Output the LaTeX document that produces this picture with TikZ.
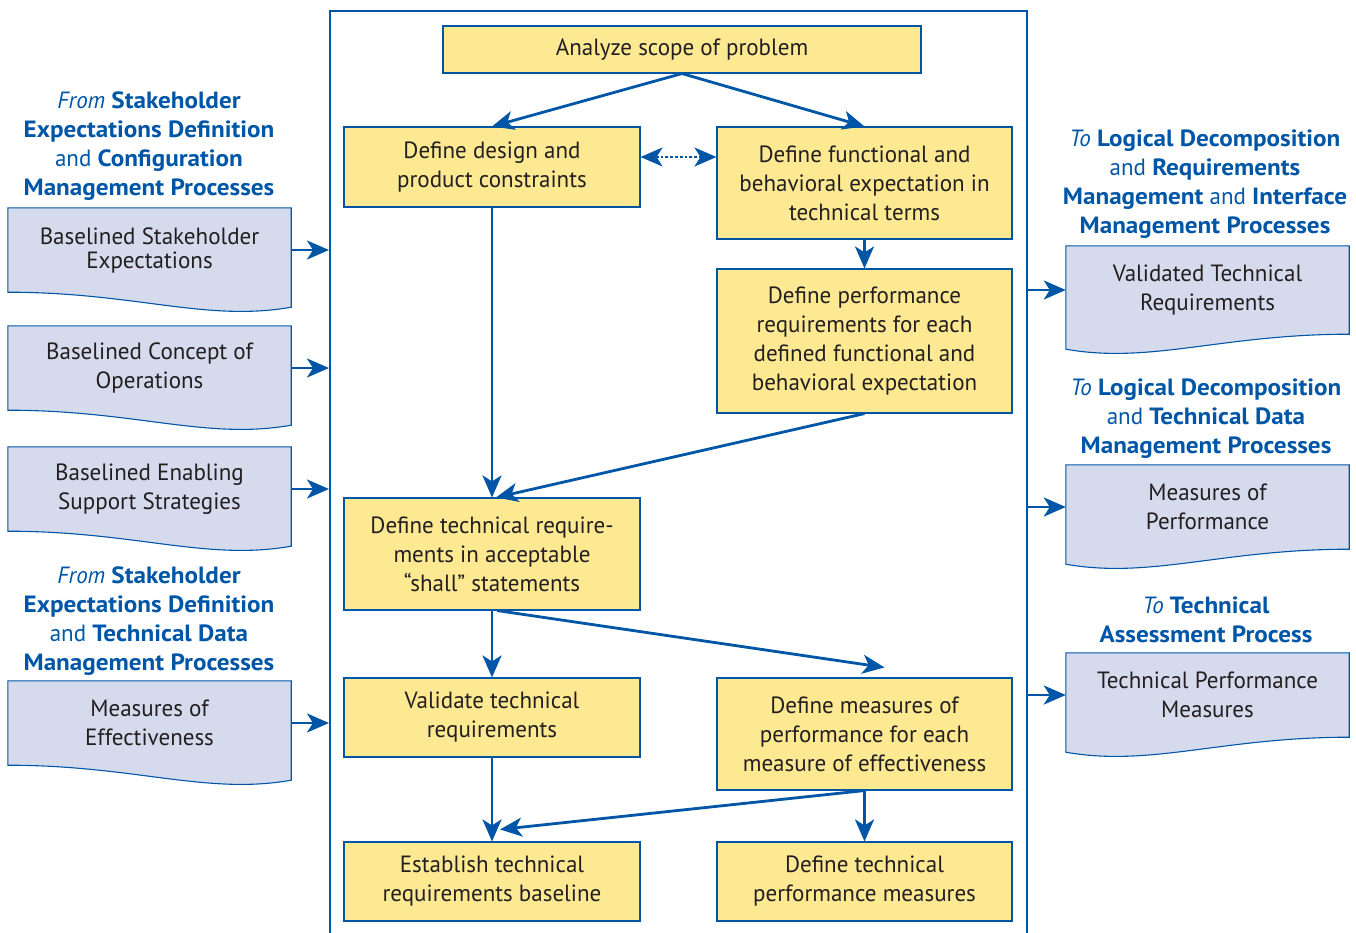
\documentclass[tikz,border=0pt]{standalone}
\usepackage{fontspec}
\setmainfont{PT Sans}[FakeStretch=0.98, BoldFont={PT Sans Bold}, BoldFeatures={FakeStretch=1.07}]
\usetikzlibrary{arrows.meta,positioning,backgrounds}
\definecolor{sebblue}{RGB}{0,86,166}
\definecolor{stepyellow}{RGB}{253,233,146}
\definecolor{doclilac}{RGB}{213,218,237}
\definecolor{inkgray}{RGB}{35,31,32}
\tikzset{
      stepbox/.style={
        draw=sebblue,
        line width=1.1pt,
        fill=stepyellow,
        text=inkgray,
        align=center,
        inner sep=0pt,
        font=\fontsize{23.5}{29}\selectfont
      },
      docbox/.style={
        minimum width=283pt,
        minimum height=84pt,
        text=inkgray,
        align=center,
        inner sep=0pt,
        font=\fontsize{23.5}{29}\selectfont
      },
      docshape/.style={draw=sebblue, line width=1.1pt, fill=doclilac},
      srclabel/.style={
        text=sebblue,
        align=center,
        inner sep=0pt,
        font=\fontsize{23.5}{29}\selectfont
      },
      flow/.style={-{Stealth[length=22pt,width=19pt,inset=6pt]}, draw=sebblue, line width=2.8pt},
      frameline/.style={draw=sebblue, line width=2.6pt}
    }

\begin{document}
\begin{tikzpicture}[x=1pt,y=-1pt]
    \useasboundingbox (0,0) rectangle (1356,932);
    \draw[frameline] (330,945) -- (330,11) -- (1027,11) -- (1027,945);
    \coordinate (fl) at (329,0);
    \coordinate (fr) at (1028,0);

    % steps inside the frame
    \node[stepbox, minimum width=478pt, minimum height=47pt] (scope) at (682,49.5) {Analyze scope of problem};
    \node[stepbox, minimum width=296pt, minimum height=80pt] (design) at (492,167) {Define design and\\product constraints};
    \node[stepbox, minimum width=295pt, minimum height=112pt] (behave) at (864.5,183) {Define functional and\\behavioral expectation in\\technical terms};
    \node[stepbox, minimum width=295pt, minimum height=144pt] (perf) at (864.5,341) {Define performance\\requirements for each\\defined functional and\\behavioral expectation};
    \node[stepbox, minimum width=296pt, minimum height=112pt] (shall) at (492,554) {Define technical require-\\ments in acceptable\\“shall” statements};
    \node[stepbox, minimum width=296pt, minimum height=79pt] (valid) at (492,717.5) {Validate technical\\requirements};
    \node[stepbox, minimum width=295pt, minimum height=112pt] (mop) at (864.5,734) {Define measures of\\performance for each\\measure of effectiveness};
    \node[stepbox, minimum width=296pt, minimum height=79pt] (base) at (492,881.5) {Establish technical\\requirements baseline};
    \node[stepbox, minimum width=295pt, minimum height=79pt] (tpm) at (864.5,881.5) {Define technical\\performance measures};

    % inputs
    \node[srclabel] (fromcfg) at (149,146.5) {\textit{From} \textbf{Stakeholder}\\\textbf{Expectations Definition}\\and \textbf{Configuration}\\\textbf{Management Processes}};
    \node[docbox] (sd1) at (149.5,250) {Baselined Stakeholder\\[-5pt]Expectations};
    \node[docbox] (sd2) at (149.5,368) {Baselined Concept of\\Operations};
    \node[docbox] (sd3) at (149.5,489) {Baselined Enabling\\Support Strategies};
    \node[srclabel] (fromtdm) at (149,621.5) {\textit{From} \textbf{Stakeholder}\\\textbf{Expectations Definition}\\and \textbf{Technical Data}\\\textbf{Management Processes}};
    \node[docbox] (sd4) at (149.5,723) {Measures of\\Effectiveness};

    % outputs
    \node[srclabel] (tolog) at (1205,184) {\textit{To} \textbf{Logical Decomposition}\\and \textbf{Requirements}\\\textbf{Management} and \textbf{Interface}\\\textbf{Management Processes}};
    \node[docbox, minimum height=88pt] (od1) at (1207.5,290) {Validated Technical\\Requirements};
    \node[srclabel] (tologtdm) at (1206,419) {\textit{To} \textbf{Logical Decomposition}\\and \textbf{Technical Data}\\\textbf{Management Processes}};
    \node[docbox] (od2) at (1207.5,507) {Measures of\\Performance};
    \node[srclabel] (totech) at (1206,620) {\textit{To} \textbf{Technical}\\\textbf{Assessment Process}};
    \node[docbox] (od3) at (1207.5,695) {Technical Performance\\Measures};

    \begin{scope}[on background layer]
      \foreach \d in {sd1,sd2,sd3,sd4}
        \draw[docshape] (\d.north west) -- (\d.north east) -- ([yshift=-15pt]\d.south east)
          .. controls ([xshift=-85pt,yshift=-30pt]\d.south east) and ([xshift=127pt]\d.south west) .. (\d.south west) -- cycle;
      \foreach \d in {od1,od2,od3}
        \draw[docshape] (\d.north west) -- (\d.north east) -- (\d.south east)
          .. controls ([xshift=-127pt]\d.south east) and ([xshift=85pt,yshift=-30pt]\d.south west) .. ([yshift=-15pt]\d.south west) -- cycle;
    \end{scope}

    % flow
    \draw[flow] (scope.south) -- (design.north);
    \draw[flow] (scope.south) -- (behave.north);
    \draw[flow, dotted, {Stealth[length=22pt,width=19pt,inset=6pt]}-{Stealth[length=22pt,width=19pt,inset=6pt]}, line width=2pt] ([yshift=10pt]design.east) -- ([yshift=10pt]design.east -| behave.west);
    \draw[flow] (behave.south) -- (perf.north);
    \draw[flow] (design.south) -- (shall.north);
    \draw[flow] (perf.south) -- ([xshift=4pt]shall.north);
    \draw[flow] (shall.south) -- (valid.north);
    \draw[flow] ([xshift=5pt]shall.south) -- ([xshift=20pt,yshift=10pt]mop.north);
    \draw[flow] (valid.south) -- (base.north);
    \draw[flow] (mop.south) -- ([xshift=8pt,yshift=12pt]base.north);
    \draw[flow] (mop.south) -- (tpm.north);

    \foreach \d in {sd1,sd2,sd3,sd4}
      \draw[flow] (\d.east) -- (\d.east -| fl);
    \foreach \d in {od1,od2,od3}
      \draw[flow] (fr |- \d.west) -- (\d.west);
\end{tikzpicture}
\end{document}
